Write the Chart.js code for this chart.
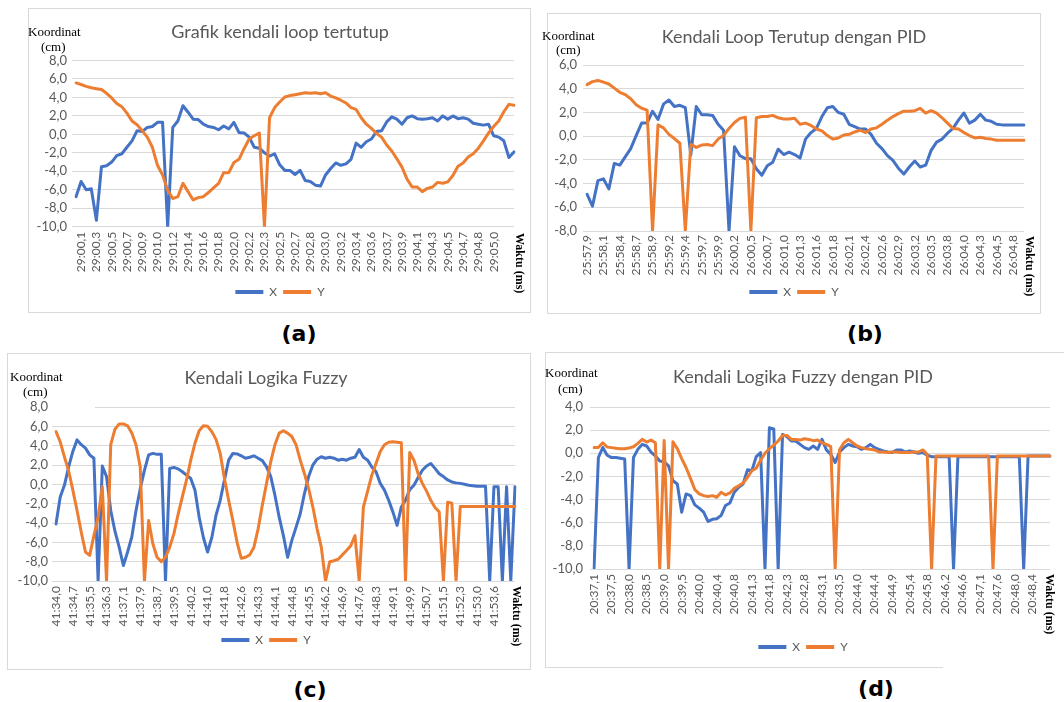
<!DOCTYPE html>
<html><head><meta charset="utf-8">
<script src="https://cdn.jsdelivr.net/npm/chart.js@4.4.0/dist/chart.umd.min.js"></script>
<style>
body{margin:0;width:1064px;height:702px;background:#fff;position:relative;overflow:hidden;font-family:Lato,sans-serif}
.frame{position:absolute;border:1px solid #d9d9d9;box-sizing:border-box}
canvas{position:absolute}
.yl{position:absolute;font-family:"Liberation Serif",serif;font-size:13px;line-height:14px;color:#000;white-space:nowrap}
.xl{position:absolute;font-family:"Liberation Serif",serif;font-size:12px;font-weight:bold;line-height:14px;color:#000;white-space:nowrap;writing-mode:vertical-rl}
.tag{position:absolute;font-family:"DejaVu Sans",sans-serif;font-weight:bold;font-size:22px;color:#000;transform:translate(-50%,-50%);white-space:nowrap}
.mask{position:absolute;background:#fff}
</style></head><body>
<div class="frame" style="left:28px;top:8px;width:503px;height:305px"></div>
<div class="frame" style="left:547px;top:13px;width:494px;height:301px"></div>
<div class="frame" style="left:7px;top:353px;width:524px;height:317px"></div>
<div class="frame" style="left:545px;top:352px;width:530px;height:316px;border-bottom:none"></div>
<div style="position:absolute;left:545px;top:667px;width:398px;height:1px;background:#d9d9d9"></div>

<script>
// ---------- DATA ----------
const seriesNames = ['X', 'Y'];

const titleA = 'Grafik kendali loop tertutup';
const tickLabelsA = ['29:00,1','29:00,3','29:00,5','29:00,7','29:00,9','29:01,0','29:01,2','29:01,4','29:01,6','29:01,8','29:02,0','29:02,2','29:02,3','29:02,5','29:02,7','29:02,8','29:03,0','29:03,2','29:03,4','29:03,6','29:03,7','29:03,9','29:04,1','29:04,3','29:04,5','29:04,7','29:04,8','29:05,0'];
const xA = [-6.75,-5.1,-6.0,-5.9,-9.3,-3.5,-3.4,-3.0,-2.3,-2.1,
 -1.4,-0.7,0.4,0.3,0.75,0.85,1.3,1.3,-10,0.75,
 1.45,3.1,2.4,1.65,1.6,1.1,0.85,0.75,0.5,0.9,
 0.6,1.3,0.2,0.15,-0.3,-1.4,-1.5,-2.0,-2.35,-2.1,
 -3.3,-3.9,-3.9,-4.35,-3.9,-5.0,-5.1,-5.5,-5.6,-4.4,
 -3.7,-3.1,-3.35,-3.2,-2.7,-0.95,-1.4,-0.8,-0.5,0.3,
 0.4,1.35,1.9,1.65,1.1,1.8,2.0,1.7,1.65,1.7,
 1.8,1.45,2.0,1.65,2.0,1.7,1.8,1.65,1.2,1.1,
 1.0,1.1,-0.15,-0.3,-0.7,-2.5,-1.9];
const yA = [5.57,5.4,5.2,5.05,4.95,4.85,4.45,3.95,3.35,3.0,
 2.3,1.45,1.05,0.4,-0.3,-1.4,-3.35,-4.4,-6.05,-6.95,
 -6.75,-5.3,-6.2,-7.1,-6.85,-6.75,-6.3,-5.8,-5.3,-4.15,
 -4.15,-3.05,-2.7,-1.55,-0.5,-0.15,0.15,-10,1.8,2.9,
 3.5,4.05,4.2,4.3,4.4,4.5,4.45,4.5,4.4,4.5,
 4.15,3.95,3.7,3.4,2.9,2.7,1.8,1.1,0.65,0.1,
 -0.3,-1.15,-1.8,-2.65,-3.55,-4.85,-5.7,-5.7,-6.2,-5.85,
 -5.7,-5.2,-5.3,-5.15,-4.45,-3.45,-3.1,-2.45,-2.1,-1.5,
 -0.7,0.15,0.85,1.45,2.45,3.25,3.15];

const titleB = 'Kendali Loop Terutup dengan PID';
const tickLabelsB = ['25:57,9','25:58,1','25:58,4','25:58,7','25:58,9','25:59,2','25:59,4','25:59,7','25:59,9','26:00,2','26:00,5','26:00,7','26:01,0','26:01,3','26:01,6','26:01,8','26:02,1','26:02,4','26:02,6','26:02,9','26:03,2','26:03,5','26:03,8','26:04,0','26:04,3','26:04,5','26:04,8'];
const xB = [-4.9,-5.9,-3.75,-3.6,-4.45,-2.3,-2.45,-1.75,-1.05,0.05,
 1.1,1.1,2.1,1.4,2.7,3.05,2.5,2.6,2.4,-1.6,
 2.5,1.8,1.8,1.75,1.0,0.5,-8,-0.9,-1.65,-1.9,
 -1.9,-2.75,-3.3,-2.5,-2.2,-1.1,-1.55,-1.35,-1.55,-1.85,
 -0.25,0.3,0.65,1.65,2.4,2.5,2.0,1.85,1.0,0.8,
 0.6,0.6,0.15,-0.6,-1.05,-1.65,-2.05,-2.7,-3.2,-2.6,
 -2.1,-2.6,-2.45,-1.2,-0.5,-0.25,0.25,0.65,1.35,1.95,
 1.1,1.35,1.85,1.35,1.25,1.0,0.95,0.95,0.95,0.95,0.95];
const yB = [4.35,4.6,4.7,4.55,4.4,4.05,3.7,3.5,3.15,2.65,
 2.35,2.2,-8,0.95,0.7,0.15,-0.2,-0.6,-8,-0.7,
 -0.95,-0.75,-0.7,-0.8,-0.25,0.05,0.65,1.15,1.5,1.6,
 -8,1.55,1.65,1.65,1.75,1.55,1.45,1.45,1.5,1.0,
 1.1,0.9,0.6,0.45,0.05,-0.25,-0.15,0.1,0.15,0.35,
 0.5,0.3,0.6,0.7,1.0,1.35,1.65,1.9,2.1,2.1,
 2.15,2.35,1.95,2.15,1.95,1.55,1.1,0.65,0.6,0.3,
 0.05,-0.15,-0.1,-0.2,-0.25,-0.35,-0.35,-0.35,-0.35,-0.35,-0.35];

const titleC = 'Kendali Logika Fuzzy';
const tickLabelsC = ['41:34,0','41:34,7','41:35,5','41:36,3','41:37,1','41:37,9','41:38,7','41:39,5','41:40,2','41:41,0','41:41,8','41:42,6','41:43,3','41:44,1','41:44,8','41:45,5','41:46,2','41:46,9','41:47,6','41:48,3','41:49,1','41:49,9','41:50,7','41:51,5','41:52,3','41:53,0','41:53,6'];
const xC = [-4.1,-1.3,-0.1,1.8,3.4,4.6,4.1,3.75,3.05,2.7,
 -10,1.9,0.8,-2.7,-4.85,-6.5,-8.4,-7.0,-5.45,-2.7,
 -0.45,1.45,3.05,3.2,3.1,3.1,-10,1.65,1.75,1.6,
 1.3,0.95,0.6,-0.6,-3.4,-5.5,-7.0,-5.5,-3.2,-1.65,
 0.45,2.5,3.2,3.15,2.95,2.7,2.8,2.95,2.7,2.45,
 1.8,0.8,-1.15,-3.4,-5.3,-7.55,-5.8,-4.45,-3.05,-0.95,
 0.8,2.0,2.6,2.85,2.7,2.8,2.7,2.5,2.6,2.5,
 2.7,2.8,3.6,2.8,2.5,1.8,1.3,0.1,-0.6,-1.65,
 -2.85,-4.25,-2.35,-1.65,-0.55,-0.1,0.7,1.45,1.9,2.15,
 1.65,1.1,0.8,0.45,0.25,0.15,0.1,0.0,-0.1,-0.15,
 -0.2,-0.2,-0.2,-10,-0.25,-0.25,-10,-0.25,-10,-0.25];
const yC = [5.45,4.4,2.85,1.4,-0.6,-2.7,-4.95,-7.0,-7.35,-5.3,
 -3.4,-0.25,-10,4.1,5.7,6.25,6.25,6.05,5.3,4.1,
 1.8,-10,-3.75,-6.15,-7.55,-8.0,-7.55,-6.5,-5.1,-3.1,
 -1.3,0.45,2.5,4.25,5.55,6.05,6.0,5.45,4.65,3.2,
 0.6,-1.65,-3.75,-6.0,-7.65,-7.55,-7.3,-6.5,-4.6,-2.15,
 0.1,2.35,4.1,5.3,5.55,5.3,4.95,4.1,2.5,1.1,
 -0.45,-2.35,-4.6,-6.5,-10,-8.0,-7.9,-7.75,-7.3,-6.85,
 -6.35,-5.3,-10,-2.35,-0.7,0.95,2.15,3.4,4.1,4.35,
 4.4,4.35,4.3,-10,3.3,2.5,1.1,0.1,-0.7,-1.65,
 -2.4,-2.85,-10,-1.85,-1.95,-10,-2.3,-2.3,-2.3,-2.3,
 -2.3,-2.3,-2.3,-2.3,-2.3,-2.3,-2.3,-2.3,-2.3,-2.3];

const titleD = 'Kendali Logika Fuzzy dengan PID';
const tickLabelsD = ['20:37,1','20:37,5','20:38,0','20:38,5','20:39,0','20:39,5','20:40,0','20:40,4','20:40,8','20:41,3','20:41,8','20:42,3','20:42,8','20:43,1','20:43,5','20:44,0','20:44,4','20:44,9','20:45,4','20:45,8','20:46,2','20:46,6','20:47,1','20:47,6','20:48,0','20:48,4'];
const xD = [-10,-0.37,0.5,-0.17,-0.37,-0.37,-0.43,-0.5,-10,-0.37,
 0.34,0.77,0.63,0.1,-0.23,-0.66,-0.74,-1.09,-2.37,-2.66,
 -5.09,-3.51,-3.66,-4.46,-4.74,-5.09,-5.89,-5.71,-5.66,-5.37,
 -4.51,-4.29,-3.37,-2.94,-2.66,-1.43,-1.51,-0.29,0.06,-10,
 2.2,2.11,-10,1.63,1.43,1.06,1.06,0.77,0.49,0.34,
 0.63,0.34,1.2,0.29,-0.09,-0.8,0.11,0.49,0.77,0.63,
 0.57,0.34,0.49,0.77,0.49,0.34,0.2,0.11,0.06,0.29,
 0.29,0.11,0.2,0.11,0.0,0.06,-0.17,-0.29,-0.29,-0.29,
 -0.29,-0.29,-10,-0.29,-0.29,-0.29,-0.29,-0.29,-0.29,-0.29,
 -0.29,-0.29,-0.29,-0.29,-0.29,-0.29,-0.29,-0.29,-10,-0.23,
 -0.23,-0.23,-0.23,-0.23,-0.23];
const yD = [0.49,0.49,0.91,0.54,0.49,0.43,0.4,0.4,0.46,0.57,
 0.86,1.2,0.97,1.14,0.91,-10,1.1,-10,1.0,0.4,
 -0.46,-1.23,-2.17,-3.14,-3.51,-3.66,-3.74,-3.66,-3.8,-3.37,
 -3.6,-3.43,-3.03,-2.8,-2.57,-2.09,-1.51,-1.29,-0.6,0.0,
 0.4,0.71,1.06,1.54,1.54,1.2,1.2,1.14,1.26,1.2,
 1.09,1.14,0.91,0.77,0.57,-10,0.3,0.91,1.2,0.91,
 0.63,0.49,0.4,0.34,0.29,0.11,0.11,0.06,0.11,0.11,
 0.06,0.06,0.06,0.11,0.11,0.29,-0.09,-10,-0.23,-0.23,
 -0.23,-0.23,-0.23,-0.23,-0.23,-0.23,-0.23,-0.23,-0.23,-0.23,
 -0.23,-10,-0.23,-0.23,-0.23,-0.23,-0.23,-0.23,-0.23,-0.23,
 -0.23,-0.23,-0.23,-0.23,-0.23];

// ---------- STYLE / LAYOUT ----------
const BLUE = '#4472C4', ORANGE = '#ED7D31';
const panels = [
  {title:titleA, ticks:tickLabelsA, xs:xA, ys:yA, perTick:3, tickOffset:1, yMin:-10, yMax:8,
   box:{left:28, top:8, width:504, height:304}, areaLeft:48, hx:53.3, padR:18, padB:4, tt:13.2, tb:17.7, yPad:5, xPad:5},
  {title:titleB, ticks:tickLabelsB, xs:xB, ys:yB, perTick:3, tickOffset:0, yMin:-8, yMax:6,
   box:{left:547, top:13, width:494, height:300}, areaLeft:40, hx:49, padR:17, padB:5, tt:13.2, tb:17.2, yPad:6, xPad:4},
  {title:titleC, ticks:tickLabelsC, xs:xC, ys:yC, perTick:4, tickOffset:0, yMin:-10, yMax:8,
   box:{left:7, top:353, width:518, height:317}, areaLeft:49, hx:47, padR:10, padB:14, tt:14.2, tb:18.2, yPad:4, xPad:5},
  {title:titleD, ticks:tickLabelsD, xs:xD, ys:yD, perTick:4, tickOffset:0, yMin:-10, yMax:4,
   box:{left:545, top:352, width:516, height:315}, areaLeft:49, hx:66, padR:11, padB:4, tt:14.2, tb:19.2, yPad:7, xPad:5}
];

function buildLabels(ticks, perTick, offset, n) {
  const out = [];
  for (let i = 0; i < n; i++) {
    const j = (i - offset) / perTick;
    out.push(i >= offset && (i - offset) % perTick === 0 && j < ticks.length ? ticks[j] : '');
  }
  return out;
}
function fmt(v) { return Number(v).toFixed(1).replace('.', ','); }

function render(p) {
  const cv = document.createElement('canvas');
  cv.width = p.box.width; cv.height = p.box.height;
  cv.style.left = p.box.left + 'px'; cv.style.top = p.box.top + 'px';
  cv.style.width = p.box.width + 'px'; cv.style.height = p.box.height + 'px';
  document.body.appendChild(cv);
  const line = (label, data, color, order) => ({
    label, data, borderColor: color, backgroundColor: color, borderWidth: 3,
    pointRadius: 0, pointHoverRadius: 0, tension: 0, order,
    borderJoinStyle: 'round', borderCapStyle: 'round', fill: false
  });
  new Chart(cv.getContext('2d'), {
    type: 'line',
    data: {
      labels: buildLabels(p.ticks, p.perTick, p.tickOffset, p.xs.length),
      datasets: [line(seriesNames[0], p.xs, BLUE, 2), line(seriesNames[1], p.ys, ORANGE, 1)]
    },
    options: {
      responsive: false, animation: false, devicePixelRatio: 1,
      events: [],
      layout: {padding: {left: 0, right: 0, top: 0, bottom: p.padB}},
      plugins: {
        title: {display: true, text: p.title, color: '#595959',
          font: {family: 'Lato', size: 18, weight: 'normal'},
          padding: {top: p.tt, bottom: p.tb}},
        legend: {position: 'bottom',
          labels: {boxWidth: 28, boxHeight: 4, padding: 6, color: '#595959',
            font: {family: 'Lato', size: 12},
            sort: (a, b) => a.datasetIndex - b.datasetIndex,
            generateLabels: (chart) => Chart.defaults.plugins.legend.labels.generateLabels(chart)
              .map(l => Object.assign(l, {lineWidth: 0, fillStyle: l.strokeStyle}))}},
        tooltip: {enabled: false}
      },
      scales: {
        x: {type: 'category', grid: {display: false, drawTicks: false}, border: {display: false},
          ticks: {autoSkip: false, maxRotation: 90, minRotation: 90, padding: p.xPad,
            color: '#595959', font: {family: 'Lato', size: 12}},
          afterFit: (s) => { s.height = p.hx; s.paddingLeft = 0; s.paddingRight = p.padR; }},
        y: {min: p.yMin, max: p.yMax,
          grid: {color: '#d9d9d9', lineWidth: 1, drawTicks: true, tickLength: 4},
          border: {display: false},
          ticks: {stepSize: 2, autoSkip: false, padding: p.yPad, color: '#595959',
            font: {family: 'Lato', size: 13}, callback: (v) => fmt(v)},
          afterFit: (s) => { s.width = p.areaLeft; s.paddingTop = 0; s.paddingBottom = 0; }}
      }
    }
  });
}
panels.forEach(render);
</script>

<div class="mask" style="left:49px;top:406px;width:46px;height:2px"></div>

<div class="yl" style="left:28px;top:25px">Koordinat</div><div class="yl" style="left:41px;top:40px">(cm)</div>
<div class="yl" style="left:542px;top:29px">Koordinat</div><div class="yl" style="left:556px;top:43px">(cm)</div>
<div class="yl" style="left:10px;top:370px">Koordinat</div><div class="yl" style="left:23px;top:385px">(cm)</div>
<div class="yl" style="left:545px;top:366px">Koordinat</div><div class="yl" style="left:558px;top:382px">(cm)</div>

<div class="xl" style="left:513px;top:233px">Waktu (ms)</div>
<div class="xl" style="left:1023px;top:236px">Waktu (ms)</div>
<div class="xl" style="left:510px;top:586px">Waktu (ms)</div>
<div class="xl" style="left:1043px;top:574px">Waktu (ms)</div>

<div class="tag" style="left:299px;top:333px">(a)</div>
<div class="tag" style="left:865px;top:333px">(b)</div>
<div class="tag" style="left:310px;top:689px">(c)</div>
<div class="tag" style="left:876px;top:688px">(d)</div>
</body></html>
